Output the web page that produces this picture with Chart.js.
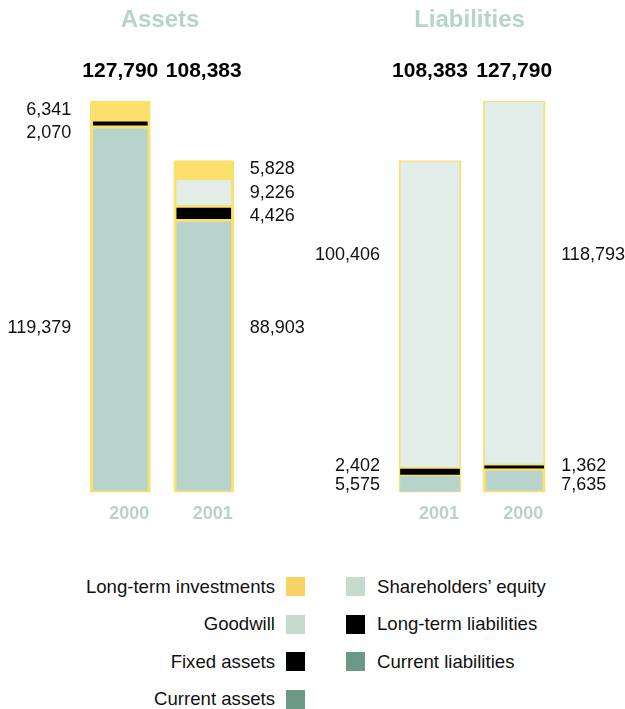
<!DOCTYPE html>
<html>
<head>
<meta charset="utf-8">
<script src="https://cdn.jsdelivr.net/npm/chart.js@4"></script>
<style>
  html, body { margin:0; padding:0; background:#fff; }
  body { width:625px; height:709px; position:relative; overflow:hidden; font-family:"Liberation Sans", Arial, sans-serif; }
  canvas { position:absolute; top:0; }
  #assets { left:0; }
  #liabs { left:310px; }
  .lg { position:absolute; font-size:18.6px; color:#111; line-height:20px; white-space:nowrap; }
  .sw { position:absolute; width:19px; height:19px; }
</style>
</head>
<body>
<canvas id="assets" width="320" height="540"></canvas>
<canvas id="liabs" width="315" height="540"></canvas>
<div id="legend"></div>
<script>
// ---------- data ----------
const assetYears = ['2000', '2001'];
const liabilityYears = ['2001', '2000'];

const currentAssets = [119379, 88903];
const fixedAssets = [2070, 4426];
const goodwill = [null, 9226];
const longTermInvestments = [6341, 5828];

const currentLiabilities = [5575, 7635];
const longTermLiabilities = [2402, 1362];
const shareholdersEquity = [100406, 118793];

const titles = ['Assets', 'Liabilities'];
const legendLeft = ['Long-term investments', 'Goodwill', 'Fixed assets', 'Current assets'];
const legendRight = ['Shareholders\u2019 equity', 'Long-term liabilities', 'Current liabilities'];

// ---------- styles ----------
const FONT = '"Liberation Sans", Arial, sans-serif';
const YELLOW = '#FBE06C';
const LIGHT = '#E2EDE9';
const GREEN = '#B8D3CC';
const BLACK = '#000000';
const TITLE = '#B8D3CC';

const fmt = v => v.toLocaleString('en-US');
const sumAt = (arrs, j) => arrs.reduce((s, a) => s + (a[j] || 0), 0);
const maxTotal = Math.max(
  ...assetYears.map((_, j) => sumAt([currentAssets, fixedAssets, goodwill, longTermInvestments], j)),
  ...liabilityYears.map((_, j) => sumAt([currentLiabilities, longTermLiabilities, shareholdersEquity], j))
);

const labelPlugin = {
  id: 'barLabels',
  afterDatasetsDraw(chart, args, opts) {
    const ctx = chart.ctx;
    ctx.save();
    ctx.textBaseline = 'middle';
    ctx.textAlign = 'center';
    ctx.font = 'bold 24px ' + FONT;
    ctx.fillStyle = TITLE;
    ctx.fillText(opts.title, opts.titleX, 20);
    const n = chart.data.labels.length;
    for (let j = 0; j < n; j++) {
      const el = chart.getDatasetMeta(0).data[j];
      const cx = el.x, w = el.width;
      let total = 0;
      chart.data.datasets.forEach(ds => { if (ds.data[j] != null) total += ds.data[j]; });
      ctx.textAlign = 'center';
      ctx.font = 'bold 21px ' + FONT;
      ctx.fillStyle = '#000';
      ctx.fillText(fmt(total), cx, 71);
      ctx.font = 'bold 18px ' + FONT;
      ctx.fillStyle = TITLE;
      ctx.fillText(chart.data.labels[j], cx + 9, 514);
      const lay = opts.layout[j];
      ctx.font = '18px ' + FONT;
      ctx.fillStyle = '#111';
      ctx.textAlign = lay.side === 'left' ? 'right' : 'left';
      const x = lay.side === 'left' ? cx - w / 2 - 19 : cx + w / 2 + 16;
      Object.entries(lay.ys).forEach(([k, y]) => {
        const v = chart.data.datasets[k].data[j];
        if (v != null) ctx.fillText(fmt(v), x, y);
      });
    }
    ctx.restore();
  }
};

function makeChart(id, labels, datasets, pad, thickness, pluginOpts) {
  return new Chart(document.getElementById(id), {
    type: 'bar',
    data: { labels, datasets },
    options: {
      responsive: false,
      animation: false,
      devicePixelRatio: 1,
      layout: { padding: pad },
      datasets: { bar: { barThickness: thickness, borderSkipped: false } },
      scales: {
        x: { stacked: true, display: false },
        y: { stacked: true, display: false, min: 0, max: maxTotal }
      },
      plugins: { legend: { display: false }, tooltip: { enabled: false }, barLabels: pluginOpts }
    },
    plugins: [labelPlugin]
  });
}

const bw = (t, s) => ({ top: t, bottom: t, left: s, right: s });

makeChart('assets', assetYears, [
  { label: 'Current assets', data: currentAssets, backgroundColor: GREEN, borderColor: YELLOW, borderWidth: bw(2, 3) },
  { label: 'Fixed assets', data: fixedAssets, backgroundColor: BLACK, borderColor: YELLOW, borderWidth: bw(1.5, 3) },
  { label: 'Goodwill', data: goodwill, backgroundColor: LIGHT, borderColor: YELLOW, borderWidth: bw(2, 3) },
  { label: 'Long-term investments', data: longTermInvestments, backgroundColor: YELLOW, borderColor: YELLOW, borderWidth: bw(2, 3) }
], { left: 78.6, right: 74.5, top: 101, bottom: 47.5 }, 60, {
  title: titles[0], titleX: 160,
  layout: [
    { side: 'left', ys: { 3: 110, 1: 133.5, 0: 328 } },
    { side: 'right', ys: { 3: 169.5, 2: 193, 1: 216.5, 0: 328 } }
  ]
});

makeChart('liabs', liabilityYears, [
  { label: 'Current liabilities', data: currentLiabilities, backgroundColor: GREEN, borderColor: YELLOW, borderWidth: [bw(1, 1.5), bw(2, 3)] },
  { label: 'Long-term liabilities', data: longTermLiabilities, backgroundColor: BLACK, borderColor: YELLOW, borderWidth: bw(1, 1.5) },
  { label: 'Shareholders\u2019 equity', data: shareholdersEquity, backgroundColor: LIGHT, borderColor: '#FBE074', borderWidth: bw(1.5, 2) }
], { left: 77.9, right: 68.7, top: 101, bottom: 47.5 }, 62, {
  title: titles[1], titleX: 159.5,
  layout: [
    { side: 'left', ys: { 2: 255.5, 1: 466, 0: 485.5 } },
    { side: 'right', ys: { 2: 255.5, 1: 466, 0: 485.5 } }
  ]
});

// ---------- legend ----------
const legendColorsLeft = ['#F9D265', '#C7DACE', '#000000', '#6A9A85'];
const legendColorsRight = ['#C7DACE', '#000000', '#6A9A85'];
const rowY = [586.5, 624, 661.5, 699];
const lg = document.getElementById('legend');
legendLeft.forEach((t, i) => {
  const d = document.createElement('div');
  d.className = 'lg';
  d.style.right = (625 - 275) + 'px';
  d.style.top = (rowY[i] - 10) + 'px';
  d.textContent = t;
  lg.appendChild(d);
  const s = document.createElement('div');
  s.className = 'sw';
  s.style.left = '286px';
  s.style.top = (rowY[i] - 9.5) + 'px';
  s.style.background = legendColorsLeft[i];
  lg.appendChild(s);
});
legendRight.forEach((t, i) => {
  const d = document.createElement('div');
  d.className = 'lg';
  d.style.left = '377px';
  d.style.top = (rowY[i] - 10) + 'px';
  d.textContent = t;
  lg.appendChild(d);
  const s = document.createElement('div');
  s.className = 'sw';
  s.style.left = '346px';
  s.style.top = (rowY[i] - 9.5) + 'px';
  s.style.background = legendColorsRight[i];
  lg.appendChild(s);
});
</script>
</body>
</html>
